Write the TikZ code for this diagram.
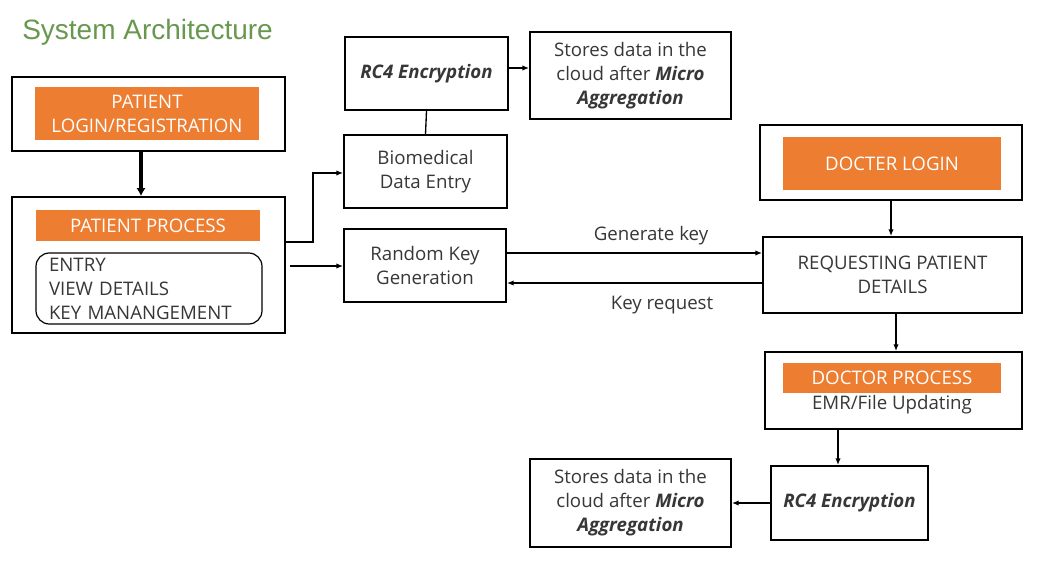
\documentclass[tikz,border=0pt]{standalone}
\usepackage{fontspec}
\setmainfont{Open Sans}
\newfontfamily\titlefont{Liberation Sans}
\usetikzlibrary{arrows.meta}
\definecolor{orng}{RGB}{237,125,49}
\definecolor{ttl}{RGB}{104,152,78}
\definecolor{txt}{RGB}{55,55,55}
\tikzset{
  box/.style={draw=black, line width=1.4pt, inner sep=0pt, text=txt, align=center, font=\fontsize{14}{18}\selectfont},
  obox/.style={fill=orng, draw=none, inner sep=0pt, text=white, align=center, font=\fontsize{14}{18}\selectfont},
  conn/.style={line width=1pt, -{Latex[length=5pt,width=4pt]}},
  lbl/.style={text=txt, font=\fontsize{14}{18}\selectfont, inner sep=0pt},
}
\begin{document}
\begin{tikzpicture}[x=0.75pt,y=-0.75pt]
\useasboundingbox[fill=white] (0,0) rectangle (1041,567);
\node[anchor=west, text=ttl, font=\titlefont\fontsize{21}{25}\selectfont, inner sep=0pt] (title) at (22,32) {System Architecture};
% patient side
\node[box, minimum width=273*0.75pt, minimum height=74*0.75pt] (plogin) at (148.5,114) {};
\node[obox, minimum width=224*0.75pt, minimum height=53*0.75pt] (ploginO) at (147,113.5) {PATIENT\\LOGIN/REGISTRATION};
\node[box, minimum width=273*0.75pt, minimum height=136*0.75pt] (pproc) at (148.5,265) {};
\node[obox, minimum width=224*0.75pt, minimum height=31*0.75pt] (pprocO) at (148,225.5) {PATIENT PROCESS};
\node[box, line width=0.9pt, rounded corners=10pt, minimum width=226*0.75pt, minimum height=71*0.75pt, text width=200*0.75pt, align=left] (plist) at (149,288.5) {ENTRY\\VIEW DETAILS\\KEY MANANGEMENT};
% middle
\node[box, minimum width=163*0.75pt, minimum height=73*0.75pt] (rc4t) at (426.5,73.5) {\textbf{\textit{RC4 Encryption}}};
\node[box, minimum width=201*0.75pt, minimum height=87*0.75pt] (storet) at (630.5,75.5) {Stores data in the\\cloud after \textbf{\textit{Micro}}\\\textbf{\textit{Aggregation}}};
\node[box, minimum width=163*0.75pt, minimum height=73*0.75pt] (bio) at (425.5,171.5) {Biomedical\\Data Entry};
\node[box, minimum width=162*0.75pt, minimum height=73*0.75pt] (rkg) at (425,265.5) {Random Key\\Generation};
% doctor side
\node[box, minimum width=262*0.75pt, minimum height=75*0.75pt] (dlogin) at (891,162.5) {};
\node[obox, minimum width=218*0.75pt, minimum height=53*0.75pt] (dloginO) at (892,163.5) {DOCTER LOGIN};
\node[box, minimum width=259*0.75pt, minimum height=76*0.75pt] (req) at (892.5,275) {REQUESTING PATIENT\\DETAILS};
\node[box, minimum width=257*0.75pt, minimum height=77*0.75pt] (dproc) at (893.5,390.5) {};
\node[obox, minimum width=218*0.75pt, minimum height=30*0.75pt] (dprocO) at (892,378) {DOCTOR PROCESS};
\node[lbl] (emr) at (892,405) {EMR/File Updating};
\node[box, minimum width=157*0.75pt, minimum height=74*0.75pt] (rc4b) at (849.5,503) {\textbf{\textit{RC4 Encryption}}};
\node[box, minimum width=201*0.75pt, minimum height=88*0.75pt] (storeb) at (630.5,503) {Stores data in the\\cloud after \textbf{\textit{Micro}}\\\textbf{\textit{Aggregation}}};
% connectors
\coordinate (rkstart) at (290,266);
\draw[line width=3pt, -{Latex[length=6pt,width=7pt]}] (plogin.south -| 141,0) -- (pproc.north -| 141,0);
\draw[conn] (pproc.east |- 0,242) -- (313,242) -- (313,173) -- (bio.west |- 0,173);
\draw[conn] (rkstart) -- (rkg.west |- rkstart);
\draw[line width=1pt] (rc4t.south) -- (bio.north);
\draw[conn] (rc4t.east |- 0,68) -- (storet.west |- 0,68);
\draw[conn] (rkg.east |- 0,253) -- (req.west |- 0,253);
\draw[conn] (req.west |- 0,283) -- (rkg.east |- 0,283);
\node[lbl] (gk) at (651,236) {Generate key};
\node[lbl] (kr) at (662,305) {Key request};
\draw[conn] (dlogin.south -| 891,0) -- (req.north -| 891,0);
\draw[conn] (req.south -| 896,0) -- (dproc.north -| 896,0);
\draw[conn] (dproc.south -| 838,0) -- (rc4b.north -| 838,0);
\draw[conn] (rc4b.west) -- (storeb.east);
\end{tikzpicture}
\end{document}
